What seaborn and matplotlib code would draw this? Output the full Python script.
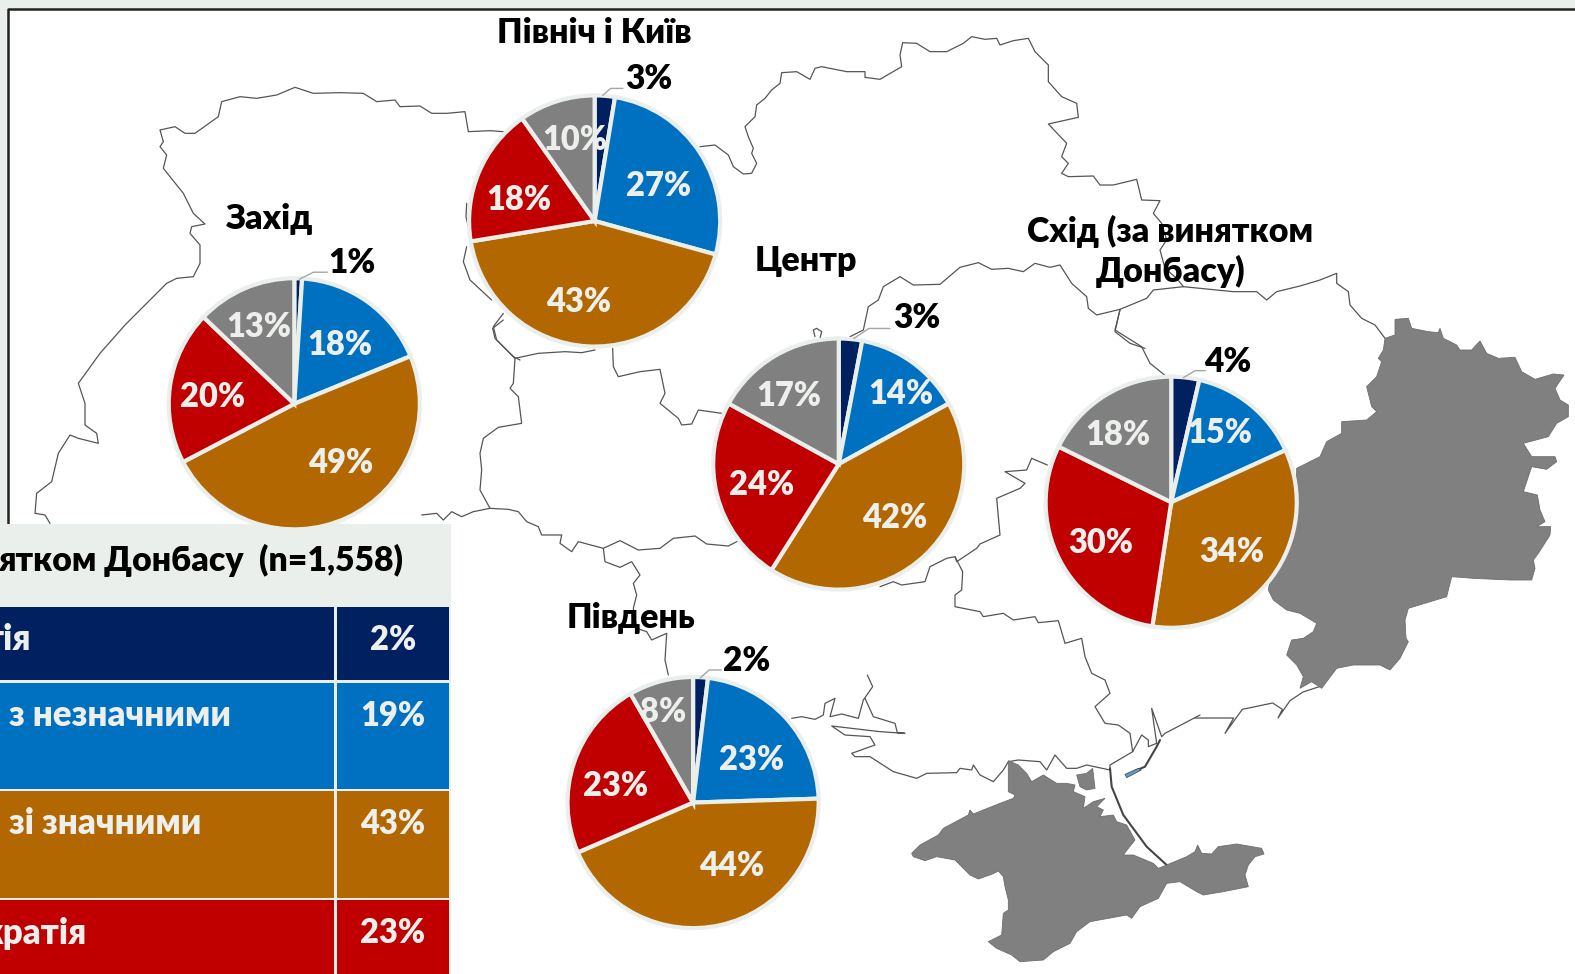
import numpy as np
import seaborn as sns
import matplotlib
matplotlib.use('Agg')
import matplotlib.pyplot as plt
from matplotlib.patches import Rectangle, Polygon

# pie data, each list goes navy, blue, brown, red, grey
# picture only labels whole percents, decimals
regions = ['Захід', 'Північ і Київ', 'Центр', 'Схід (за винятком\nДонбасу)', 'Південь']
democracy_full = [1, 2.6, 3, 3.6, 1.9]
democracy_minor = [18, 26.7, 14, 14.6, 22.6]
democracy_major = [49, 43.1, 42, 34.2, 44]
not_democracy = [20, 17.8, 24, 29.9, 23.2]
dont_know = [13, 9.8, 17, 17.7, 8.3]

# table in the bottom left corner, cut off by the picture edge
table_title = 'ятком Донбасу  (n=1,558)'
table_labels = ['тія', 'з незначними', 'зі значними', 'кратія']
table_values = [2, 19, 43, 23]

W, H = 1575, 974
PANEL = '#EAEFEC'
LIGHT = '#EDEFEC'
LINE = '#555555'
colors = sns.color_palette(['#002060', '#0070C0', '#B26700', '#C00000', '#808080'])

# layout, in pixels of the 1568 wide preview
pie_centers = [(293, 402), (592, 220), (835, 462), (1166, 500), (690, 799)]
pie_radius = 125
title_pos = [(268, 218), (592, 32), (802, 259), (1165, 250), (628, 615)]
small_label_pos = [(350, 260), (646, 77), (913, 315), (1222, 358), (743, 656)]
leaders = [
    [(298, 278), (312, 271), (326, 271)],
    [(600, 95), (608, 88), (620, 88)],
    [(850, 337), (865, 327), (886, 327)],
    [(1178, 376), (1190, 369), (1200, 369)],
    [(697, 675), (706, 667), (718, 667)],
]
label_pos = [
    [(338, 341), (339, 458), (212, 393), (258, 323)],
    [(656, 183), (576, 298), (517, 197), (572, 137)],
    [(897, 390), (891, 513), (758, 480), (785, 392)],
    [(1214, 429), (1226, 547), (1096, 538), (1113, 431)],
    [(748, 754), (728, 860), (613, 780), (660, 706)],
]

west_crop = [(20, 70),
    [(90, 1360), (75, 1335), (45, 1330), (50, 1270), (95, 1235), (115, 1150), (150, 1095), (175, 1105), (235, 1120), (230, 1090),
     (195, 1065), (195, 1000), (175, 940), (240, 850), (315, 765), (370, 710), (440, 640), (470, 625), (520, 620), (540, 580),
     (540, 525), (510, 490), (515, 470), (555, 462), (520, 430), (490, 370), (470, 345), (430, 295), (440, 255), (420, 230),
     (430, 215), (420, 180), (465, 170), (495, 190), (525, 190), (595, 140), (605, 95), (660, 80), (710, 85), (770, 75),
     (825, 52), (880, 70), (960, 68), (1030, 70), (1070, 95), (1125, 90), (1140, 110), (1200, 108), (1235, 130), (1280, 130),
     (1335, 125), (1345, 185), (1410, 182), (1450, 185)],
    [(1340, 400), (1338, 440), (1345, 470)],
    [(1340, 530), (1330, 575), (1350, 630), (1415, 690)],
    [(1450, 730), (1420, 770), (1430, 810), (1480, 860), (1500, 870)],
]
center_crop = [(420, 320),
    [(250, 0), (218, 25), (225, 55), (285, 115), (355, 100), (435, 95), (485, 98), (525, 90)],
    [(285, 115), (280, 190), (270, 205), (295, 230), (305, 310), (235, 322), (190, 355), (180, 400), (185, 450), (180, 510), (210, 565)],
    [(5, 585), (50, 580), (70, 600), (95, 575), (125, 590), (160, 575), (210, 565), (265, 568), (295, 575), (320, 605),
     (355, 620), (365, 645), (425, 645), (420, 670), (455, 695), (475, 665), (550, 685), (600, 662), (655, 690), (720, 685),
     (760, 655), (825, 648), (860, 672), (925, 678), (960, 660)],
    [(550, 685), (555, 725), (600, 742), (635, 725), (660, 765), (640, 790), (650, 825), (640, 865), (650, 925), (680, 935),
     (695, 960), (740, 940), (735, 1020), (745, 1065)],
    [(578, 85), (580, 140), (595, 170), (660, 155), (720, 148), (735, 220), (720, 250), (775, 295), (785, 315), (815, 312),
     (835, 270), (905, 280)],
]
north_crop = [(700, 20),
    [(0, 380), (45, 375), (85, 405), (100, 440), (130, 462), (155, 460), (170, 430), (155, 400), (160, 385), (145, 350),
     (135, 320), (165, 290), (170, 255), (195, 235), (215, 210), (240, 190), (245, 158), (290, 155), (330, 178), (345, 145),
     (365, 140), (440, 155), (495, 155), (495, 172), (540, 178), (605, 140), (600, 105), (608, 68), (650, 70), (690, 95),
     (740, 95), (790, 70), (815, 50), (855, 58), (890, 55), (900, 75), (940, 62), (985, 55), (1005, 95), (1045, 135),
     (1045, 185), (1085, 230), (1130, 250), (1135, 292), (1045, 312), (1100, 370), (1085, 410), (1105, 430), (1085, 460), (1105, 470),
     (1180, 468), (1200, 495), (1240, 495), (1310, 478), (1325, 540), (1380, 542), (1360, 580), (1385, 610), (1400, 660), (1380, 690),
     (1395, 745), (1430, 775), (1450, 800)],
    [(450, 950), (490, 930), (505, 860), (535, 840), (550, 800), (600, 770), (640, 795), (720, 793), (780, 742), (835, 728),
     (875, 748), (925, 745), (970, 755), (1005, 730), (1050, 742), (1080, 735), (1115, 790), (1160, 830), (1165, 865), (1190, 885),
     (1260, 868), (1340, 835), (1360, 810), (1450, 800)],
    [(1260, 868), (1245, 935), (1290, 970), (1335, 985)],
    [(345, 950), (340, 930), (350, 925), (365, 935), (360, 955)],
]
east_crop = [(1100, 260),
    [(60, 150), (45, 210), (125, 260), (150, 310), (200, 350)],
    [(250, 80), (400, 95), (470, 95), (500, 120), (530, 95), (600, 78), (660, 60), (710, 40), (710, 70), (745, 95),
     (750, 135), (785, 175), (825, 195), (855, 235)],
]
south_crop = [(780, 440),
    [(300, 440), (340, 425), (365, 435), (435, 425), (450, 380), (500, 355), (525, 350), (530, 365), (590, 325), (600, 312),
     (660, 285), (650, 175), (720, 145), (735, 130), (675, 95), (740, 90), (755, 55), (802, 75)],
    [(525, 350), (548, 395), (545, 450), (525, 465), (525, 500), (600, 515), (610, 530), (670, 520), (700, 540), (765, 530),
     (775, 548), (835, 542), (855, 610), (905, 595), (915, 650), (935, 700), (975, 720), (990, 760), (945, 800), (975, 850),
     (1015, 855), (1050, 880), (1058, 935), (990, 975), (990, 990)],
    [(1058, 935), (1085, 885), (1105, 900), (1105, 920), (1130, 910), (1115, 805), (1145, 890), (1155, 880), (1260, 825)],
    [(35, 835), (65, 830), (105, 838), (130, 825), (135, 790), (165, 775), (150, 830), (185, 822), (235, 835), (250, 780),
     (278, 740), (262, 705)],
    [(255, 775), (280, 830), (345, 850), (352, 878), (375, 880), (300, 875), (155, 858), (195, 885), (270, 890), (285, 915),
     (215, 940), (225, 950), (270, 950), (340, 995), (410, 1015), (440, 1000), (530, 998), (540, 985), (575, 990), (580, 975),
     (600, 1005), (640, 1025), (670, 990), (685, 965), (715, 960), (780, 965), (800, 990), (825, 945), (860, 985), (890, 985),
     (920, 975), (990, 990)],
]
# sea coast between the spit and Donbas
coast_crop = [(900, 300),
    [(884, 1254), (1001, 1254), (975, 1300), (1027, 1228), (1118, 1209), (1147, 1228), (1134, 1254), (1170, 1202), (1209, 1176), (1267, 1157)],
]
# dark spit lines
spit_crop = [(900, 740),
    [(630, 85), (635, 140), (670, 225), (740, 320), (800, 375)],
    [(780, 0), (770, 20), (735, 80), (700, 95)],
]
donbas_crop = (1100, 260)
donbas = [(855, 235), (885, 225), (885, 178), (925, 175), (935, 205), (985, 215), (1015, 218), (1020, 205), (1030, 235), (1070, 255),
          (1080, 270), (1115, 270), (1140, 243), (1160, 280), (1195, 295), (1245, 292), (1265, 335), (1305, 358), (1360, 342), (1392, 345),
          (1365, 385), (1380, 420), (1405, 435), (1405, 470), (1370, 490), (1345, 530), (1270, 550), (1295, 590), (1365, 590), (1370, 605),
          (1340, 628), (1295, 620), (1270, 695), (1312, 705), (1320, 750), (1335, 785), (1310, 800), (1352, 800), (1350, 825), (1315, 880),
          (1300, 900), (1305, 925), (1295, 960), (1230, 960), (1120, 955), (1055, 950), (1040, 1010), (925, 1045), (915, 1080), (918, 1135),
          (925, 1145), (900, 1195), (870, 1230), (840, 1215), (760, 1215), (710, 1225), (665, 1285), (635, 1265), (600, 1285), (610, 1250),
          (590, 1215), (560, 1185), (575, 1140), (610, 1135), (640, 1115), (650, 1090), (600, 1060), (560, 1050), (520, 1020), (505, 990),
          (520, 900), (590, 640), (590, 625), (630, 605), (660, 590), (680, 545), (725, 520), (725, 485), (800, 480), (830, 455),
          (815, 440), (800, 380), (830, 350), (845, 305), (835, 295), (850, 270)]
crimea_crop = (900, 740)
crimea = [(35, 340), (60, 315), (115, 285), (130, 265), (205, 225), (210, 210), (220, 222), (300, 190), (340, 175), (345, 165),
          (325, 155), (325, 62), (355, 75), (380, 100), (395, 125), (430, 105), (470, 130), (500, 130), (525, 135), (520, 155),
          (555, 170), (550, 205), (580, 185), (615, 175), (590, 200), (610, 210), (600, 230), (640, 225), (650, 245), (680, 255),
          (705, 300), (685, 325), (670, 345), (700, 345), (760, 370), (775, 385), (800, 375), (860, 350), (885, 335), (893, 315),
          (905, 340), (935, 342), (955, 320), (1010, 312), (1085, 325), (1092, 342), (1065, 350), (1045, 375), (1035, 405), (1045, 440),
          (970, 455), (910, 465), (890, 455), (840, 425), (800, 430), (775, 475), (720, 500), (695, 535), (680, 525), (570, 545),
          (530, 575), (510, 610), (460, 635), (430, 660), (360, 665), (335, 645), (290, 625), (265, 605), (305, 585), (310, 520),
          (325, 510), (325, 480), (315, 440), (310, 410), (295, 393), (275, 403), (235, 417), (210, 405), (165, 360), (110, 350),
          (75, 362), (40, 350)]
crimea_blob = [(530, 105), (560, 100), (578, 85), (585, 145), (560, 150), (540, 140)]
lagoon = [(675, 103), (715, 85), (724, 90), (680, 113)]


def prev(p, dy=0):
    # preview pixels to axes coords
    s = W / 1568
    return p[0] * s, H - (p[1] + dy) * s


def crop(p, corner):
    # 3x crop pixels to axes coords
    return corner[0] + p[0] / 3, H - (corner[1] + p[1] / 3)


sns.set_theme(style='white')
plt.rcParams['font.family'] = ['Lato', 'Noto Sans', 'DejaVu Sans']
WEIGHT = 800

fig = plt.figure(figsize=(W / 100, H / 100), dpi=100, facecolor=PANEL)
ax = fig.add_axes([0, 0, 1, 1])

# white map area with its black frame
ax.add_patch(Rectangle((8, 0), W, H - 9, fc='white', ec='none', zorder=0))
ax.plot([8, 8, W], [H - 525, H - 9, H - 9], color='#222222', lw=1.8, zorder=1)

for group in [west_crop, center_crop, north_crop, east_crop, south_crop, coast_crop]:
    for line in group[1:]:
        pts = np.array([crop(p, group[0]) for p in line])
        sns.lineplot(x=pts[:, 0], y=pts[:, 1], sort=False, estimator=None, color=LINE, lw=0.9, ax=ax, zorder=1)
for line in spit_crop[1:]:
    pts = np.array([crop(p, spit_crop[0]) for p in line])
    sns.lineplot(x=pts[:, 0], y=pts[:, 1], sort=False, estimator=None, color='#444444', lw=1.5, ax=ax, zorder=1)

ax.add_patch(Polygon([crop(p, donbas_crop) for p in donbas], fc='#808080', ec='#6E6E6E', lw=0.6, zorder=1))
ax.add_patch(Polygon([crop(p, crimea_crop) for p in crimea], fc='#808080', ec='#6E6E6E', lw=0.6, zorder=1))
ax.add_patch(Polygon([crop(p, crimea_crop) for p in crimea_blob], fc='#808080', ec='#6E6E6E', lw=0.6, zorder=1))
ax.add_patch(Polygon([crop(p, crimea_crop) for p in lagoon], fc='#5B9BC5', ec='#444444', lw=0.5, zorder=1))

# the five pies
for i, region in enumerate(regions):
    values = [democracy_full[i], democracy_minor[i], democracy_major[i], not_democracy[i], dont_know[i]]
    wedges, _ = ax.pie(values, colors=colors, startangle=90, counterclock=False, center=prev(pie_centers[i]),
                       radius=pie_radius * W / 1568, wedgeprops={'edgecolor': PANEL, 'linewidth': 3.0})
    for w in wedges:
        w.set_zorder(4)

    x, y = prev(title_pos[i], 0.5)
    ax.text(x, y, region, ha='center', va='center', fontsize=24.5, fontweight=WEIGHT, color='black', zorder=6, linespacing=1.27)

    x, y = prev(small_label_pos[i], 2)
    ax.text(x, y, f'{round(values[0])}%', ha='center', va='center', fontsize=24, fontweight=WEIGHT, color='black', zorder=6)
    pts = np.array([prev(p) for p in leaders[i]])
    ax.plot(pts[:, 0], pts[:, 1], color='#A6A6A6', lw=1.0, zorder=5)

    for v, pos in zip(values[1:], label_pos[i]):
        x, y = prev(pos, 2.5)
        ax.text(x, y, f'{round(v)}%', ha='center', va='center', fontsize=23.5, fontweight=WEIGHT, color=LIGHT, zorder=6)

# table panel
ax.add_patch(Rectangle((0, 0), 451, H - 524, fc=PANEL, ec='none', zorder=3))
ax.text(403, H - 560, table_title, ha='right', va='center', fontsize=24.3, fontweight=WEIGHT, color='black', zorder=6)

row_top = [607, 683, 791, 900]
row_bottom = [680, 789, 898, 980]
for i, (label, val) in enumerate(zip(table_labels, table_values)):
    top, bottom = row_top[i], row_bottom[i]
    ax.add_patch(Rectangle((0, H - bottom), 334, bottom - top, fc=colors[i], ec='none', zorder=4))
    ax.add_patch(Rectangle((337, H - bottom), 112, bottom - top, fc=colors[i], ec='none', zorder=4))
    if i in (0, 3):
        ax.text(31 if i == 0 else 86, H - (top + 33), label, ha='right', va='center', fontsize=25, fontweight=WEIGHT, color=LIGHT, zorder=6)
    else:
        ax.text(9, H - (top + 33), label, ha='left', va='center', fontsize=25, fontweight=WEIGHT, color=LIGHT, zorder=6)
    ax.text(393, H - (top + 33), f'{val}%', ha='center', va='center', fontsize=23.5, fontweight=WEIGHT, color=LIGHT, zorder=6)

ax.set_xlim(0, W)
ax.set_ylim(0, H)
ax.set_aspect('auto')
ax.set_frame_on(False)
ax.set_xticks([])
ax.set_yticks([])

plt.savefig('out.png', dpi=100, facecolor=fig.get_facecolor())
